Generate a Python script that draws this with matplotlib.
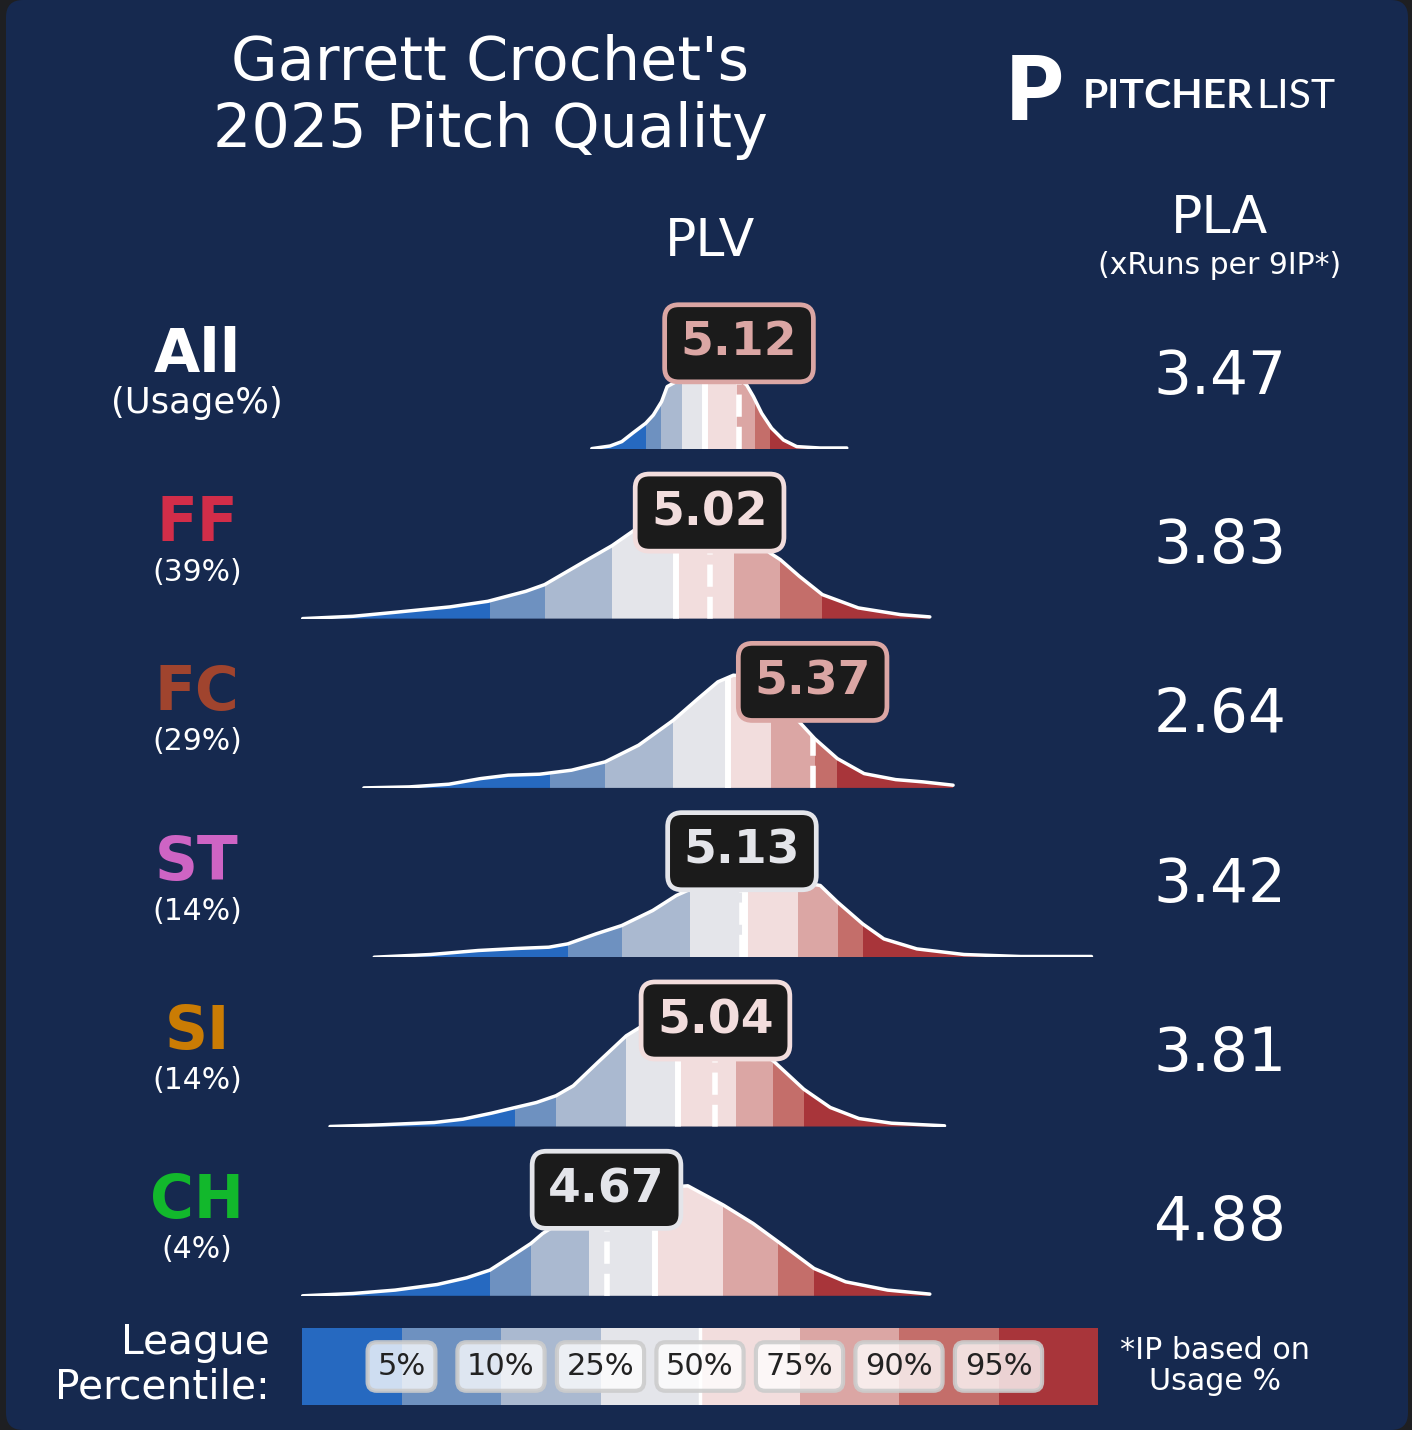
import numpy as np
import matplotlib.pyplot as plt
from matplotlib.patches import Polygon, FancyBboxPatch
from matplotlib.text import Annotation

# Pitch level data
pitches = ['All', 'FF', 'FC', 'ST', 'SI', 'CH']
usage = ['(Usage%)', '(39%)', '(29%)', '(14%)', '(14%)', '(4%)']
pitch_colors = ['white', '#D22D49', '#A0442E', '#CE64C4', '#CA7C04', '#12B82C']
plv = [5.12, 5.02, 5.37, 5.13, 5.04, 4.67]
pla = [3.47, 3.83, 2.64, 3.42, 3.81, 4.88]

# League percentile cut points (5, 10, 25, 50, 75, 90, 95) for each pitch type
all_pct = [4.803, 4.855, 4.925, 5.006, 5.113, 5.174, 5.225]
ff_pct = [4.274, 4.460, 4.689, 4.906, 5.103, 5.260, 5.403]
fc_pct = [4.477, 4.665, 4.897, 5.081, 5.229, 5.377, 5.454]
st_pct = [4.538, 4.722, 4.955, 5.140, 5.320, 5.455, 5.540]
si_pct = [4.360, 4.498, 4.737, 4.914, 5.111, 5.236, 5.340]
ch_pct = [4.274, 4.413, 4.610, 4.836, 5.067, 5.253, 5.375]

# PLV density curves
all_x = [4.620, 4.682, 4.722, 4.761, 4.803, 4.829, 4.857, 4.876, 4.940, 5.010, 5.060, 5.112, 5.146, 5.169, 5.197, 5.231, 5.271, 5.316, 5.395, 5.486]
all_y = [0.007, 0.033, 0.077, 0.167, 0.260, 0.343, 0.477, 0.627, 0.730, 0.760, 0.755, 0.727, 0.643, 0.527, 0.360, 0.210, 0.093, 0.027, 0.013, 0.013]
ff_x = [3.638, 3.809, 3.952, 4.138, 4.267, 4.396, 4.460, 4.596, 4.689, 4.767, 4.840, 4.910, 4.990, 5.082, 5.160, 5.225, 5.260, 5.325, 5.403, 5.525, 5.668, 5.768]
ff_y = [0.0, 0.023, 0.063, 0.117, 0.173, 0.273, 0.340, 0.573, 0.730, 0.890, 1.000, 1.040, 1.030, 0.957, 0.820, 0.657, 0.590, 0.423, 0.240, 0.107, 0.040, 0.017]
fc_x = [3.846, 4.000, 4.135, 4.242, 4.336, 4.443, 4.551, 4.665, 4.779, 4.897, 4.981, 5.048, 5.101, 5.169, 5.249, 5.330, 5.377, 5.454, 5.545, 5.652, 5.746, 5.847]
fc_y = [0.0, 0.010, 0.037, 0.093, 0.127, 0.137, 0.177, 0.260, 0.427, 0.677, 0.893, 1.060, 1.127, 1.110, 0.910, 0.643, 0.493, 0.293, 0.143, 0.083, 0.060, 0.027]
st_x = [3.881, 4.073, 4.234, 4.362, 4.474, 4.538, 4.634, 4.722, 4.827, 4.907, 5.000, 5.115, 5.250, 5.396, 5.455, 5.540, 5.612, 5.724, 5.884, 6.077, 6.317]
st_y = [0.0, 0.027, 0.067, 0.087, 0.100, 0.133, 0.233, 0.317, 0.467, 0.617, 0.740, 0.800, 0.790, 0.717, 0.550, 0.333, 0.183, 0.083, 0.027, 0.007, 0.007]
si_x = [3.731, 3.905, 4.085, 4.182, 4.279, 4.360, 4.432, 4.498, 4.557, 4.640, 4.737, 4.792, 4.889, 4.980, 5.083, 5.160, 5.236, 5.340, 5.430, 5.527, 5.638, 5.818]
si_y = [0.0, 0.017, 0.040, 0.073, 0.133, 0.190, 0.240, 0.307, 0.407, 0.640, 0.907, 1.007, 1.057, 1.030, 0.940, 0.820, 0.657, 0.373, 0.190, 0.080, 0.033, 0.007]
ch_x = [3.638, 3.809, 3.952, 4.095, 4.195, 4.274, 4.353, 4.413, 4.453, 4.596, 4.767, 4.946, 5.067, 5.168, 5.253, 5.375, 5.482, 5.625, 5.768]
ch_y = [0.0, 0.023, 0.057, 0.113, 0.180, 0.257, 0.407, 0.523, 0.623, 0.890, 1.057, 1.100, 0.907, 0.723, 0.540, 0.273, 0.140, 0.057, 0.017]

curves_x = [all_x, ff_x, fc_x, st_x, si_x, ch_x]
curves_y = [all_y, ff_y, fc_y, st_y, si_y, ch_y]
pcts = [all_pct, ff_pct, fc_pct, st_pct, si_pct, ch_pct]

pct_labels = ['5%', '10%', '25%', '50%', '75%', '90%', '95%']
band_colors = ['#2669C0', '#6E91C0', '#AAB9D0', '#E4E5EA', '#F2DDDD', '#DBA6A4', '#C46E6A', '#A8353A']

navy = '#16294F'
W, H = 1412, 1430
xlim = (3.595, 6.346)

def fx(x):
    return x / W

def fy(y):
    return 1 - y / H

fig = plt.figure(figsize=(W / 100, H / 100), dpi=100, facecolor='#1e1f22')
fig.patches.append(FancyBboxPatch((fx(6), 0.0), fx(1402), 1.0, boxstyle='round,pad=0,rounding_size=0.012',
                                  transform=fig.transFigure, facecolor=navy, edgecolor='none', zorder=-10))

# Title and headers
fig.text(fx(490), fy(97), "Garrett Crochet's\n2025 Pitch Quality", ha='center', va='center',
         fontsize=43.5, color='white', linespacing=1.16)
fig.text(fx(710), fy(242), 'PLV', ha='center', va='center', fontsize=37.5, color='white')
fig.text(fx(1220), fy(219), 'PLA', ha='center', va='center', fontsize=37.5, color='white')
fig.text(fx(1220), fy(266), '(xRuns per 9IP*)', ha='center', va='center', fontsize=21.5, color='white')

# Logo
fig.text(fx(1034), fy(94), 'P', ha='center', va='center', fontsize=64, weight='heavy', color='white', family='Lato')
t1 = fig.text(fx(1083), fy(96), 'PITCHER', ha='left', va='center', fontsize=29.5, weight='bold',
              color='white', family='Lato')
fig.add_artist(Annotation('LIST', xy=(1, 0.5), xycoords=t1, xytext=(2, 0), textcoords='offset points',
                          ha='left', va='center', fontsize=29.5, color='white', family='Lato',
                          annotation_clip=False))

# Rows
for i in range(len(pitches)):
    base = 449.3 + i * 169.3
    ax = fig.add_axes([fx(290), fy(base), fx(1100) - fx(290), 145 / H])
    ax.set_xlim(*xlim)
    ax.set_ylim(0, 1.45)
    ax.axis('off')

    x = curves_x[i]
    y = curves_y[i]
    verts = [(x[0], 0)] + list(zip(x, y)) + [(x[-1], 0)]
    poly = Polygon(verts, closed=True, facecolor='none', edgecolor='none')
    ax.add_patch(poly)

    edges = [xlim[0]] + pcts[i] + [xlim[1]]
    for j in range(len(band_colors)):
        span = ax.axvspan(edges[j], edges[j + 1], color=band_colors[j], lw=0, zorder=1)
        span.set_clip_path(poly)

    med = ax.axvline(pcts[i][3], color='white', lw=4.3, zorder=2)
    med.set_clip_path(poly)
    val = ax.axvline(plv[i], color='white', lw=4, dashes=(4, 1.8), zorder=2)
    val.set_clip_path(poly)

    ax.plot(x, y, color='white', lw=2.5, zorder=3, solid_capstyle='round', solid_joinstyle='round')

    c = band_colors[np.searchsorted(pcts[i], plv[i])]
    ax.text(plv[i], 1.06, '%.2f' % plv[i], ha='center', va='center', fontsize=34, weight='bold',
            color=c, zorder=5,
            bbox=dict(boxstyle='round,pad=0.34,rounding_size=0.3', fc='#1b1b1b', ec=c, lw=3.4))

    # pitch name / usage and PLA
    fig.text(fx(197), fy(base - 94), pitches[i], ha='center', va='center', fontsize=43,
             weight='bold', color=pitch_colors[i])
    fig.text(fx(197), fy(base - 46), usage[i], ha='center', va='center',
             fontsize=25.5 if i == 0 else 21.5, color='white')
    fig.text(fx(1220), fy(base - 72), '%.2f' % pla[i], ha='center', va='center', fontsize=43, color='white')

# League percentile legend
lax = fig.add_axes([fx(302), fy(1405), fx(1098) - fx(302), 77 / H])
lax.bar(np.arange(len(band_colors)), np.ones(len(band_colors)), width=1, align='edge', color=band_colors, lw=0)
lax.axvline(4, color='white', lw=2.5)
lax.set_xlim(0, len(band_colors))
lax.set_ylim(0, 1)
lax.axis('off')
for k, lbl in enumerate(pct_labels):
    lax.text(k + 1, 0.5, lbl, ha='center', va='center', fontsize=22, color='#222222',
             bbox=dict(boxstyle='round,pad=0.32,rounding_size=0.3', fc=(1, 1, 1, 0.78),
                       ec=(0.8, 0.8, 0.8, 0.9), lw=3))

fig.text(fx(270), fy(1365), 'League\nPercentile:', ha='right', va='center', fontsize=29.3,
         color='white', linespacing=1.14)
fig.text(fx(1215), fy(1366), '*IP based on\nUsage %', ha='center', va='center', fontsize=21.7,
         color='white', linespacing=1.12)

fig.savefig('out.png', dpi=100, facecolor=fig.get_facecolor())
